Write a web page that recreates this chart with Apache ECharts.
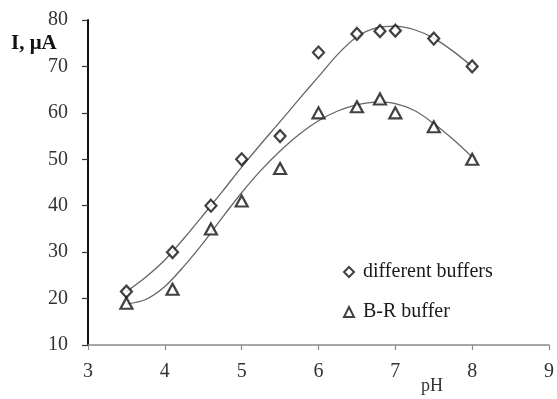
<!DOCTYPE html>
<html>
<head>
<meta charset="utf-8">
<script src="https://cdn.jsdelivr.net/npm/echarts@6/dist/echarts.min.js"></script>
<style>
  html, body { margin: 0; padding: 0; background: #fff; }
  #chart { width: 557px; height: 399px; }
</style>
</head>
<body>
<div id="chart"></div>
<script>
// Measured points: current I (µA) versus pH
const phPoints = [3.5, 4.1, 4.6, 5, 5.5, 6, 6.5, 6.8, 7, 7.5, 8];
const currentDifferent = [21.5, 30, 40, 50, 55, 73, 77, 77.6, 77.7, 76, 70];
const currentBR = [19, 22, 35, 41, 48, 60, 61.3, 63, 60, 57, 50];

// Trend curves through each data set
const trendPh = [3.5, 3.75, 4, 4.25, 4.5, 4.75, 5, 5.25, 5.5, 5.75, 6, 6.25, 6.5, 6.75, 7, 7.25, 7.5, 7.75, 8];
const trendDifferent = [21.5, 24.6, 28.3, 33.0, 38.0, 43.1, 48.3, 53.3, 58.1, 63.0, 67.8, 72.6, 76.4, 78.3, 78.7, 77.9, 76.1, 73.3, 70.0];
const trendBR = [18.8, 19.8, 22.6, 27.0, 32.0, 37.5, 42.8, 47.6, 51.8, 55.4, 58.3, 60.4, 61.7, 62.3, 62.0, 60.5, 57.7, 54.3, 50.5];

const xTicks = [3, 4, 5, 6, 7, 8, 9];
const yTicks = [10, 20, 30, 40, 50, 60, 70, 80];

const legendNames = ['different buffers', 'B-R buffer'];

const pair = (xs, ys) => xs.map((x, i) => [x, ys[i]]);

const serif = '"Liberation Serif", "DejaVu Serif", serif';

const chart = echarts.init(document.getElementById('chart'), null, { renderer: 'canvas' });

chart.setOption({
  animation: false,
  backgroundColor: '#ffffff',
  grid: { left: 88, right: 6, top: 20, bottom: 54, containLabel: false },
  xAxis: {
    type: 'value',
    min: xTicks[0],
    max: xTicks[xTicks.length - 1],
    interval: 1,
    axisLine: { show: true, onZero: false, lineStyle: { color: '#8a8a8a', width: 1.5 } },
    axisTick: { show: true, inside: false, length: 5, lineStyle: { color: '#8a8a8a', width: 1.2 } },
    axisLabel: { margin: 17, fontFamily: serif, fontSize: 20, color: '#333' },
    splitLine: { show: false }
  },
  yAxis: {
    type: 'value',
    min: yTicks[0],
    max: yTicks[yTicks.length - 1],
    interval: 10,
    axisLine: { show: true, onZero: false, lineStyle: { color: '#111', width: 2 } },
    axisTick: { show: true, inside: false, length: 6, lineStyle: { color: '#333', width: 1.2 } },
    axisLabel: { margin: 20, fontFamily: serif, fontSize: 20, color: '#333' },
    splitLine: { show: false }
  },
  legend: {
    orient: 'vertical',
    left: 343,
    top: 262,
    padding: 0,
    itemGap: 20,
    itemWidth: 10,
    itemHeight: 10,
    data: legendNames,
    textStyle: { fontFamily: serif, fontSize: 20, color: '#1a1a1a', padding: [0, 0, 0, 4] }
  },
  graphic: [
    {
      type: 'text',
      left: 11,
      top: 33,
      style: { text: 'I, μA', fontFamily: serif, fontSize: 21, fontWeight: 'bold', fill: '#111' }
    },
    {
      type: 'text',
      left: 421,
      top: 377,
      style: { text: 'pH', fontFamily: serif, fontSize: 18, fill: '#333' }
    }
  ],
  series: [
    {
      name: 'trend different',
      type: 'line',
      data: pair(trendPh, trendDifferent),
      smooth: 0.3,
      showSymbol: false,
      lineStyle: { color: '#666', width: 1.3 },
      z: 1
    },
    {
      name: 'trend BR',
      type: 'line',
      data: pair(trendPh, trendBR),
      smooth: 0.3,
      showSymbol: false,
      lineStyle: { color: '#666', width: 1.3 },
      z: 1
    },
    {
      name: legendNames[0],
      type: 'scatter',
      symbol: 'diamond',
      symbolSize: [11, 12],
      data: pair(phPoints, currentDifferent),
      itemStyle: { color: '#fff', borderColor: '#111', borderWidth: 2.2 },
      z: 3
    },
    {
      name: legendNames[1],
      type: 'scatter',
      symbol: 'triangle',
      symbolSize: [12, 11],
      data: pair(phPoints, currentBR),
      itemStyle: { color: '#fff', borderColor: '#111', borderWidth: 2.2 },
      z: 3
    }
  ]
});
</script>
</body>
</html>
